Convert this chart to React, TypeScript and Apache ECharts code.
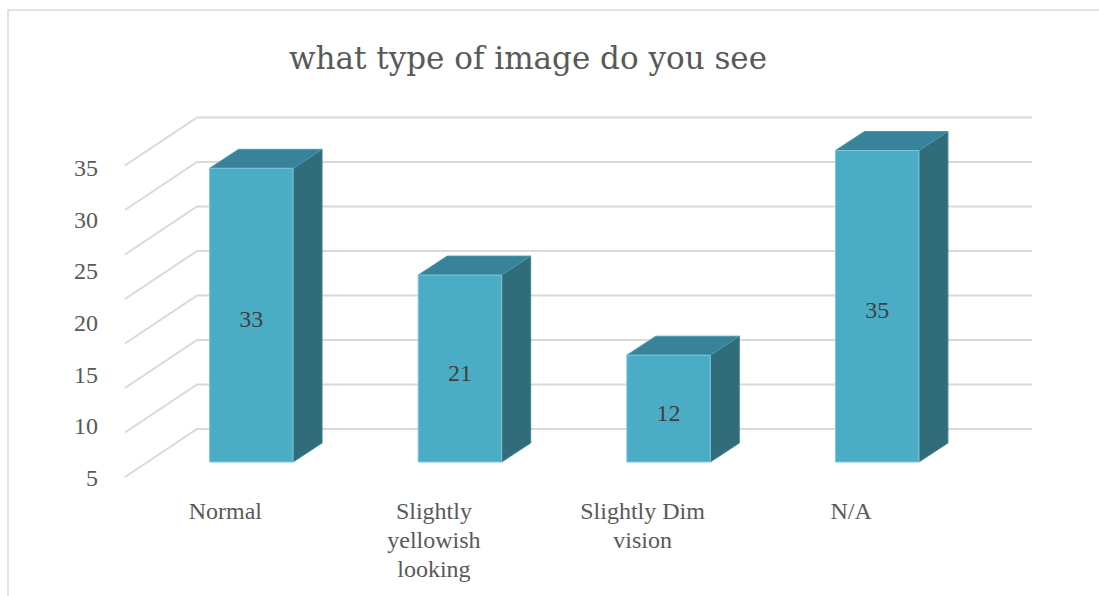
import React, { useEffect, useRef } from "react";
import * as echarts from "echarts";

const titleText = "what type of image do you see";
const categories = ["Normal", "Slightly\nyellowish\nlooking", "Slightly Dim\nvision", "N/A"];
const values = [33, 21, 12, 35];
const gridTicks = [0, 5, 10, 15, 20, 25, 30, 35];

const FRONT = "#4BACC6";
const TOP = "#38839A";
const SIDE = "#316C7B";
const GRID = "#D9D9D9";
const TXT = "#595959";
const SERIF = "'Liberation Serif', 'DejaVu Serif', serif";

export default function App() {
  const ref = useRef<HTMLDivElement>(null);
  useEffect(() => {
    if (!ref.current) return;
    const chart = echarts.init(ref.current, undefined, { renderer: "svg" });
    const DX = 29;
    const DY = -19;
    chart.setOption({
      animation: false,
      backgroundColor: "#ffffff",
      title: {
        text: titleText,
        left: 523,
        textAlign: "center",
        top: 37,
        textStyle: { fontFamily: "'DejaVu Serif', serif", fontSize: 31, fontWeight: "normal", color: TXT },
      },
      graphic: [
        {
          type: "rect",
          shape: { x: 8, y: 10, width: 1200, height: 700 },
          style: { fill: "none", stroke: GRID, lineWidth: 1.5 },
          silent: true,
        },
      ],
      grid: [
        { left: 147, width: 834.5, top: 150.5, height: 311.5 },
        { left: 121, width: 834.5, top: 150.5, height: 311.5 },
        { left: 106, width: 10, top: 168, height: 310 },
      ],
      xAxis: [
        { gridIndex: 0, type: "category", data: categories, show: false },
        {
          gridIndex: 1,
          type: "category",
          data: categories,
          axisLine: { show: false },
          axisTick: { show: false },
          axisLabel: {
            interval: 0,
            margin: 34,
            fontFamily: SERIF,
            fontSize: 24,
            lineHeight: 29,
            color: TXT,
          },
        },
        { gridIndex: 2, type: "value", show: false },
      ],
      yAxis: [
        { gridIndex: 0, type: "value", min: 0, max: 35, show: false },
        { gridIndex: 1, type: "value", min: 0, max: 35, show: false },
        {
          gridIndex: 2,
          type: "value",
          min: 5,
          max: 35,
          interval: 5,
          axisLine: { show: false },
          axisTick: { show: false },
          splitLine: { show: false },
          axisLabel: { margin: 8, fontFamily: SERIF, fontSize: 24, color: TXT },
        },
      ],
      series: [
        {
          type: "custom",
          name: "gridlines",
          xAxisIndex: 0,
          yAxisIndex: 0,
          z: 1,
          silent: true,
          data: gridTicks.map((v) => [0, v]),
          encode: { x: 0, y: 1 },
          renderItem: (params: any, api: any) => {
            const cs = params.coordSys;
            const y = api.coord([0, api.value(1)])[1];
            return {
              type: "polyline",
              shape: {
                points: [
                  [cs.x - 22, y + 15],
                  [cs.x + 50, y - 33],
                  [cs.x + cs.width + 50.5, y - 33],
                ],
              },
              style: { stroke: GRID, lineWidth: 2, fill: "none" },
            };
          },
        },
        {
          type: "custom",
          name: "what type of image do you see",
          xAxisIndex: 0,
          yAxisIndex: 0,
          z: 2,
          data: values.map((v, i) => [i, v]),
          encode: { x: 0, y: 1 },
          renderItem: (params: any, api: any) => {
            const i = api.value(0);
            const v = api.value(1);
            const top = api.coord([i, v]);
            const base = api.coord([i, 0]);
            const bw = api.size([1, 0])[0] * 0.4;
            const cx = top[0];
            const yT = top[1];
            const yB = base[1];
            const x0 = cx - bw / 2;
            const x1 = cx + bw / 2;
            return {
              type: "group",
              children: [
                {
                  type: "polygon",
                  shape: { points: [[x1, yT], [x1 + DX, yT + DY], [x1 + DX, yB + DY], [x1, yB]] },
                  style: { fill: SIDE, stroke: "#3E8294", lineWidth: 1 },
                },
                {
                  type: "polygon",
                  shape: { points: [[x0, yT], [x1, yT], [x1 + DX, yT + DY], [x0 + DX, yT + DY]] },
                  style: { fill: TOP, stroke: "#4A98AE", lineWidth: 1 },
                },
                {
                  type: "rect",
                  shape: { x: x0, y: yT, width: bw, height: yB - yT },
                  style: { fill: FRONT, stroke: "#7FC6D9", lineWidth: 1 },
                },
                {
                  type: "text",
                  x: cx,
                  y: (yT + yB) / 2 + 4,
                  style: {
                    text: String(v),
                    textAlign: "center",
                    textVerticalAlign: "middle",
                    font: "24px " + SERIF,
                    fill: "#404040",
                  },
                },
              ],
            };
          },
        },
      ],
    });
    return () => chart.dispose();
  }, []);
  return (
    <div
      ref={ref}
      style={{ position: "fixed", left: 0, top: 0, width: 1099, height: 596, background: "#fff" }}
    />
  );
}
